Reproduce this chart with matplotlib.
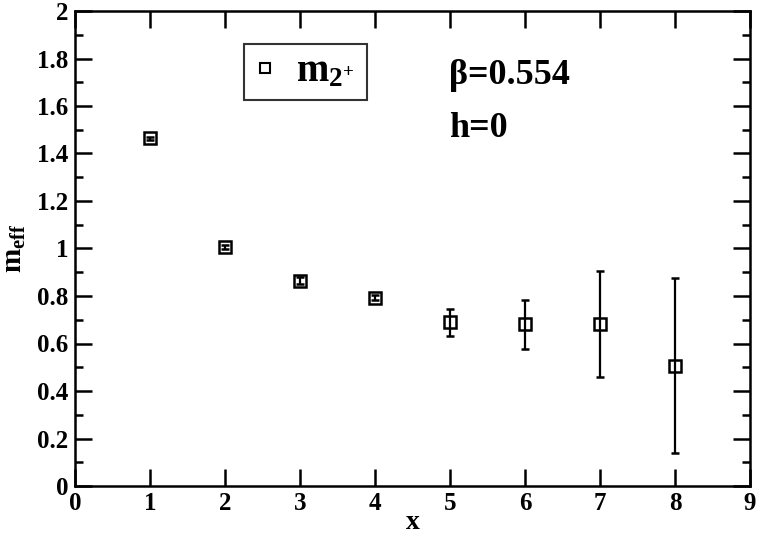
import numpy as np
import matplotlib.pyplot as plt
from matplotlib.ticker import MultipleLocator, FuncFormatter

# effective mass data
x_vals = [1, 2, 3, 4, 5, 6, 7, 8]
m_eff = [1.464, 1.008, 0.865, 0.793, 0.689, 0.681, 0.682, 0.507]
m_err = [0.006, 0.008, 0.015, 0.010, 0.058, 0.103, 0.224, 0.370]

plt.rcParams["font.family"] = "Liberation Serif"
plt.rcParams["font.weight"] = "bold"
plt.rcParams["axes.labelweight"] = "bold"
plt.rcParams["mathtext.fontset"] = "custom"
plt.rcParams["mathtext.rm"] = "Liberation Serif:bold"
plt.rcParams["mathtext.it"] = "Liberation Serif:bold"
plt.rcParams["mathtext.bf"] = "Liberation Serif:bold"

fig = plt.figure(figsize=(7.63, 5.34), dpi=100)
ax = fig.add_axes([75 / 763, 48 / 534, 675 / 763, 475 / 534])

ax.errorbar(
    x_vals, m_eff, yerr=m_err, fmt="s", color="black", mfc="none", mec="black",
    ms=9, mew=1.8, elinewidth=1.6, capsize=3, capthick=1.6,
)
# legend handle: marker only
ax.plot([], [], "s", mfc="none", mec="black", ms=7, mew=1.5,
        label=r"$\mathrm{m}_{\mathrm{2}^{+}}$ ")

ax.set_xlim(0, 9)
ax.set_ylim(0, 2)
ax.xaxis.set_major_locator(MultipleLocator(1))
ax.yaxis.set_major_locator(MultipleLocator(0.2))
ax.yaxis.set_minor_locator(MultipleLocator(0.1))
ax.yaxis.set_major_formatter(FuncFormatter(lambda v, p: f"{v:g}"))
ax.tick_params(which="both", direction="in", top=True, right=True, width=1.8,
               labelsize=18)
ax.tick_params(axis="x", pad=4)
ax.tick_params(axis="y", pad=5)
ax.tick_params(which="major", length=12)
ax.tick_params(which="minor", length=6)
for s in ax.spines.values():
    s.set_linewidth(1.8)

ax.set_xlabel("x", fontsize=20, fontweight="bold", labelpad=-3.5)
ax.set_ylabel(r"$\mathrm{m}_{\mathrm{eff}}$", fontsize=21, labelpad=6)

leg = ax.legend(loc="upper left", bbox_to_anchor=(169 / 675, 1 - 33 / 475),
                fontsize=28, frameon=True, fancybox=False, handlelength=0.6,
                handletextpad=0.5, borderpad=0.25, borderaxespad=0)
leg.get_frame().set_edgecolor("black")
leg.get_frame().set_linewidth(1.5)

ax.text(4.99, 1.73, "\u03b2=0.554", fontsize=26, fontweight="bold", va="center")
ax.text(4.99, 1.507, "h=0", fontsize=26, fontweight="bold", va="center")

fig.savefig("out.png", dpi=100)
